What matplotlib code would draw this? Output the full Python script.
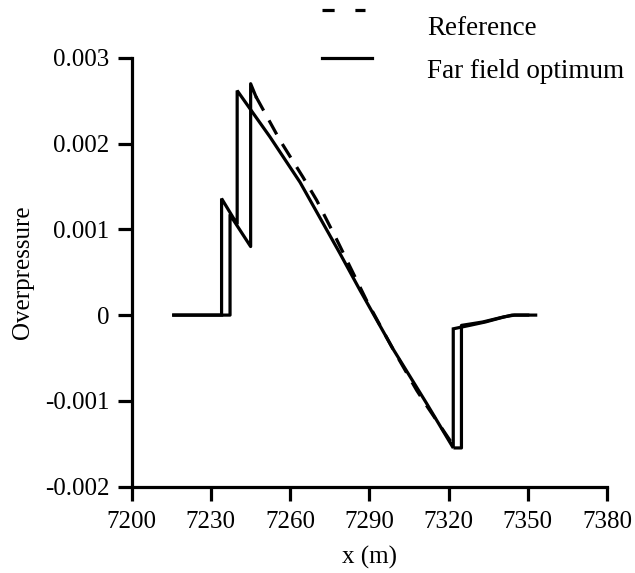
import matplotlib
matplotlib.use("Agg")
import matplotlib.pyplot as plt
from matplotlib.lines import Line2D

plt.rcParams['font.family'] = ['Liberation Serif', 'DejaVu Serif']
plt.rcParams['font.size'] = 18

# far field optimum (solid)
opt_x = [7216, 7234.1, 7234.1, 7240.0, 7240.0, 7245.5, 7252.4, 7263.8, 7278.9,
         7286.5, 7299.1, 7311.7, 7321.8, 7321.8, 7328, 7334, 7340, 7344, 7350]
opt_y = [0, 0, 0.00136, 0.00106, 0.00262, 0.00238, 0.00208, 0.00155, 0.00072,
         0.00029, -0.00040, -0.00103, -0.00155, -0.00016, -0.00012, -0.00008,
         -0.00003, 0, 0]

# reference signature (dashed on the linear part)
ref_x = [7216, 7237.3, 7237.3, 7245.1, 7245.1, 7247.1,
         7256.2, 7264.9, 7270.1, 7277.7, 7289, 7298.5, 7308, 7312, 7322.5,
         7324.9, 7324.9, 7329, 7333, 7337, 7341, 7345, 7353]
ref_y = [0, 0, 0.00117, 0.00080, 0.00270, 0.00255,
         0.00204, 0.00161, 0.00134, 0.00088, 0.00017, -0.00037, -0.00088, -0.00107, -0.00155,
         -0.00155, -0.00012, -0.00010, -0.00008, -0.00005, -0.00002, 0.0, 0.0]
ref_dash_start, ref_dash_end = 5, 14  # indices where the dashed part begins / ends

x_ticks = [7200, 7230, 7260, 7290, 7320, 7350, 7380]
y_ticks = [-0.002, -0.001, 0, 0.001, 0.002, 0.003]
y_labels = ['-0.002', '-0.001', '0', '0.001', '0.002', '0.003']

W, H = 635, 573
fig = plt.figure(figsize=(W / 100, H / 100), dpi=100)
ax = fig.add_axes([131.5 / W, 1 - 486.5 / H, (607 - 131.5) / W, (486.5 - 58) / H])

lw = 2.3
ax.plot(opt_x, opt_y, color='black', lw=lw, solid_joinstyle='miter')
ax.plot(ref_x[:ref_dash_start + 1], ref_y[:ref_dash_start + 1], color='black', lw=lw)
ax.plot(ref_x[ref_dash_start:ref_dash_end + 1], ref_y[ref_dash_start:ref_dash_end + 1],
        color='black', lw=lw, linestyle=(0, (5, 3.5)))
ax.plot(ref_x[ref_dash_end:], ref_y[ref_dash_end:], color='black', lw=lw)

ax.set_xlim(7200, 7380)
ax.set_ylim(-0.002, 0.003)
ax.set_xticks(x_ticks)
ax.set_yticks(y_ticks)
ax.set_yticklabels(y_labels)
ax.spines['top'].set_visible(False)
ax.spines['right'].set_visible(False)
for s in ('left', 'bottom'):
    ax.spines[s].set_linewidth(lw)
ax.tick_params(direction='out', length=10, width=lw, pad=6)
ax.tick_params(axis='x', pad=8)
ax.set_xlabel('x (m)', labelpad=9)
ax.set_ylabel('Overpressure', labelpad=8)

# legend drawn by hand: sample line above its text
fig.add_artist(Line2D([321.7 / W, 365 / W], [1 - 10 / H, 1 - 10 / H], color='black',
                      lw=lw, linestyle=(0, (3.8, 6.5)), transform=fig.transFigure))
fig.add_artist(Line2D([321.7 / W, 371.7 / W], [1 - 58 / H, 1 - 58 / H], color='black',
                      lw=lw, transform=fig.transFigure))
fig.text(427 / W, 1 - 35 / H, 'Reference', va='baseline', ha='left', fontsize=19.5)
fig.text(427 / W, 1 - 78 / H, 'Far field optimum', va='baseline', ha='left', fontsize=19.5)

fig.savefig('out.png', dpi=100)
